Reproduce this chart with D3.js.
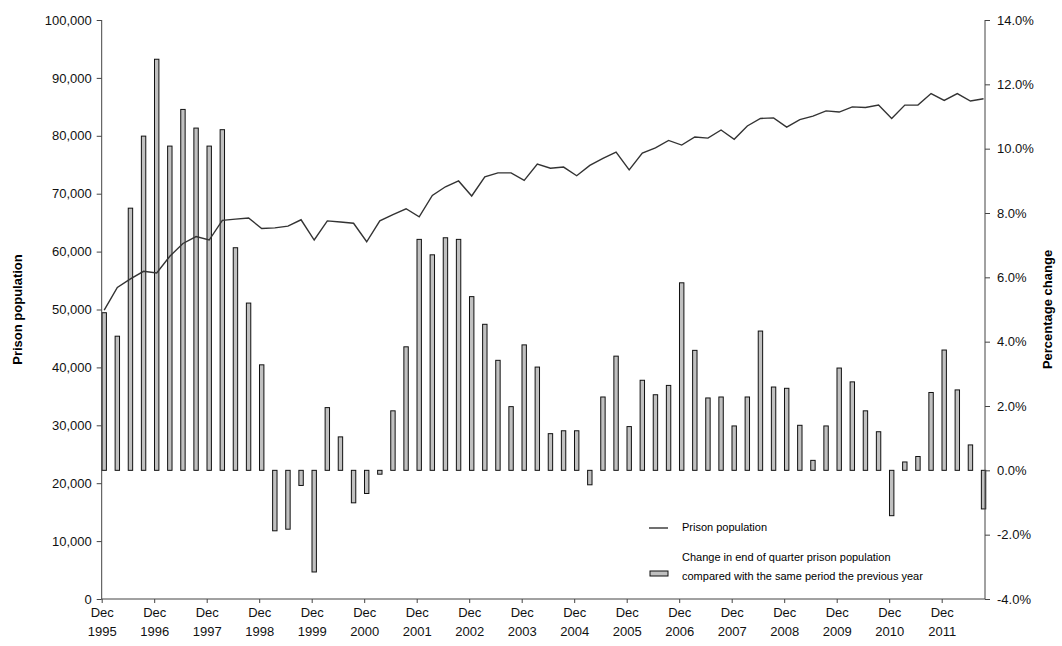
<!DOCTYPE html>
<html>
<head>
<meta charset="utf-8">
<script src="https://cdn.jsdelivr.net/npm/d3@7"></script>
<style>
  body { margin: 0; background: #fff; }
  svg { font-family: "Liberation Sans", Arial, sans-serif; }
  .axis path, .axis line { stroke: #444; }
  .axis text { font-size: 13px; fill: #111; }
</style>
</head>
<body>
<svg width="1062" height="646"></svg>
<script>
// quarters indexed from Dec 1995 (0) to Sep 2012 (67)
var tickYears = ["1995", "1996", "1997", "1998", "1999", "2000", "2001", "2002",
    "2003", "2004", "2005", "2006", "2007", "2008", "2009", "2010", "2011"];

// end of quarter prison population
var population = [
    49900, 53800, 55300, 56600, 56300, 59200, 61400, 62600, 62000, 65400,
    65600, 65800, 64000, 64100, 64400, 65500, 62000, 65300, 65100, 64900,
    61700, 65300, 66400, 67400, 66000, 69700, 71200, 72200, 69600, 72900,
    73600, 73600, 72300, 75100, 74400, 74600, 73100, 74900, 76100, 77200,
    74100, 77000, 77900, 79200, 78400, 79800, 79600, 81000, 79400, 81700,
    83000, 83100, 81500, 82800, 83400, 84300, 84100, 85000, 84900, 85300,
    83000, 85300, 85300, 87300, 86100, 87300, 86000, 86400
];

// % change compared with the same period the previous year
var pctChange = [
    4.90, 4.17, 8.15, 10.39, 12.78, 10.08, 11.22, 10.64, 10.08, 10.59,
    6.92, 5.20, 3.28, -1.88, -1.83, -0.47, -3.16, 1.95, 1.04, -1.01,
    -0.72, -0.12, 1.85, 3.84, 7.18, 6.70, 7.23, 7.18, 5.40, 4.54,
    3.42, 1.98, 3.90, 3.21, 1.14, 1.23, 1.23, -0.45, 2.28, 3.55,
    1.36, 2.80, 2.35, 2.64, 5.83, 3.73, 2.25, 2.28, 1.38, 2.28,
    4.33, 2.59, 2.55, 1.40, 0.31, 1.38, 3.18, 2.75, 1.85, 1.20,
    -1.41, 0.26, 0.43, 2.42, 3.74, 2.50, 0.79, -1.20
];

var plotL = 101.7, plotR = 985, plotT = 20, plotB = 599;
var svg = d3.select("svg");

var x = d3.scaleLinear().domain([0, 67.3]).range([plotL, plotR]);
var yPop = d3.scaleLinear().domain([0, 100000]).range([plotB, plotT]);
var yPct = d3.scaleLinear().domain([-4, 14]).range([plotB, plotT]);

var barW = 4.4;

//柱子
svg.append("g").selectAll("rect")
    .data(pctChange)
    .join("rect")
    .attr("x", (d, i) => x(i) + 0.3)
    .attr("width", barW)
    .attr("y", d => yPct(Math.max(0, d)))
    .attr("height", d => Math.abs(yPct(d) - yPct(0)))
    .attr("fill", "#c0c0c0")
    .attr("stroke", "#111")
    .attr("stroke-width", 1);

//折线
var line = d3.line()
    .x((d, i) => x(i) + 2.5)
    .y(d => yPop(d));
svg.append("path")
    .datum(population)
    .attr("d", line)
    .attr("fill", "none")
    .attr("stroke", "#333")
    .attr("stroke-width", 1.4);

// axes
var yl = svg.append("g").attr("class", "axis")
    .attr("transform", `translate(${plotL},0)`)
    .call(d3.axisLeft(yPop).tickValues(d3.range(0, 100001, 10000))
        .tickFormat(d3.format(",")).tickSize(5).tickPadding(5));

var yr = svg.append("g").attr("class", "axis")
    .attr("transform", `translate(${plotR},0)`)
    .call(d3.axisRight(yPct).tickValues(d3.range(-4, 14.1, 2))
        .tickFormat(d => d.toFixed(1) + "%").tickSize(5).tickPadding(7));

var xa = svg.append("g").attr("class", "axis")
    .attr("transform", `translate(0,${plotB})`)
    .call(d3.axisBottom(x).tickValues(tickYears.map((d, i) => i * 4))
        .tickSize(4).tickFormat(""));
xa.select(".domain").attr("d", `M${plotL},0H${plotR}`);
[yl, yr].forEach(g => g.select(".domain").attr("d", `M0,${plotB}V${plotT}`));

xa.selectAll(".tick").each(function (d, i) {
    var t = d3.select(this).append("text")
        .attr("text-anchor", "middle")
        .attr("fill", "#111")
        .style("font-size", "13px");
    t.append("tspan").attr("x", 0).attr("y", 18).text("Dec");
    t.append("tspan").attr("x", 0).attr("y", 37).text(tickYears[i]);
});

// axis titles
svg.append("text")
    .attr("transform", `translate(22,${(plotT + plotB) / 2}) rotate(-90)`)
    .attr("text-anchor", "middle")
    .style("font-size", "13px").style("font-weight", "bold")
    .text("Prison population");
svg.append("text")
    .attr("transform", `translate(1052,${(plotT + plotB) / 2}) rotate(-90)`)
    .attr("text-anchor", "middle")
    .style("font-size", "13px").style("font-weight", "bold")
    .text("Percentage change");

// legend
var lg = svg.append("g").attr("transform", "translate(649,0)");
lg.append("line").attr("x1", 0).attr("x2", 19).attr("y1", 528).attr("y2", 528)
    .attr("stroke", "#333").attr("stroke-width", 1.4);
lg.append("text").attr("x", 33).attr("y", 531).style("font-size", "11px")
    .text("Prison population");
lg.append("rect").attr("x", 1).attr("y", 571).attr("width", 18).attr("height", 5)
    .attr("fill", "#c0c0c0").attr("stroke", "#111");
lg.append("text").attr("x", 33).attr("y", 561).style("font-size", "11px")
    .text("Change in end of quarter prison population");
lg.append("text").attr("x", 33).attr("y", 580).style("font-size", "11px")
    .text("compared with the same period the previous year");
</script>
</body>
</html>
